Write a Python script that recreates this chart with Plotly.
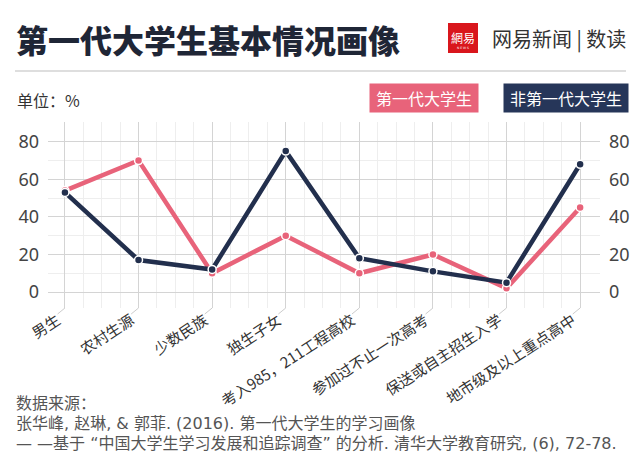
import plotly.graph_objects as go

categories = ["男生", "农村生源", "少数民族", "独生子女", "考入985，211工程高校",
              "参加过不止一次高考", "保送或自主招生入学", "地市级及以上重点高中"]
first_gen = [54, 70, 10, 30, 10, 20, 2, 45]
non_first_gen = [53, 17, 12, 75, 18, 11, 5, 68]
y_ticks = [0, 20, 40, 60, 80]

PINK = "#e8637a"
NAVY = "#222f4d"
FONT = "Noto Sans CJK SC"
SRC_FONT = "DejaVu Sans, Noto Sans CJK SC"

W, H = 640, 467
L, R, T, B = 48, 40, 122, 159
PW, PH = W - L - R, H - T - B


def px(x):
    return (x - L) / PW


def py(y):
    return (H - B - y) / PH


xs = list(range(len(categories)))
label_pos = [i - 0.1 for i in xs]
minor_x = [i + f for i in range(len(categories) - 1) for f in (0.25, 0.5, 0.75)]

fig = go.Figure()
fig.add_trace(go.Scatter(
    x=xs, y=first_gen, mode="lines+markers", name="第一代大学生",
    line=dict(color=PINK, width=4.5),
    marker=dict(color=PINK, size=8, line=dict(color="white", width=1.5)),
    showlegend=False))
fig.add_trace(go.Scatter(
    x=xs, y=non_first_gen, mode="lines+markers", name="非第一代大学生",
    line=dict(color=NAVY, width=4.5),
    marker=dict(color=NAVY, size=8, line=dict(color="white", width=1.5)),
    showlegend=False))
fig.add_trace(go.Scatter(x=xs, y=non_first_gen, xaxis="x2", yaxis="y2", mode="none",
                         showlegend=False, hoverinfo="skip"))

xr = [-0.23, 7.27]
yr = [-8.5, 90.5]
fig.update_layout(
    width=W, height=H,
    margin=dict(l=L, r=R, t=T, b=B, autoexpand=False),
    paper_bgcolor="white", plot_bgcolor="white",
    font=dict(family=FONT, color="#333333"),
    xaxis=dict(
        range=xr, tickvals=xs, showticklabels=False,
        showgrid=True, gridcolor="#d4d4d4", gridwidth=1,
        zeroline=False, showline=False, ticks="",
        minor=dict(tickvals=minor_x, showgrid=True, gridcolor="#eeeeee", gridwidth=1),
    ),
    xaxis2=dict(
        range=xr, tickvals=label_pos, ticktext=categories, overlaying="x", side="bottom",
        anchor="y", tickangle=-33, tickfont=dict(size=15, color="#333333", family=FONT),
        showgrid=False, zeroline=False, showline=False, ticks="",
    ),
    yaxis=dict(
        range=yr, tickvals=y_ticks, tickfont=dict(size=18, color="#444444", family="Noto Sans"),
        showgrid=True, gridcolor="#d4d4d4", gridwidth=1, zeroline=False,
        minor=dict(dtick=10, showgrid=True, gridcolor="#eeeeee", gridwidth=1),
        ticklabelstandoff=8,
    ),
    yaxis2=dict(
        range=yr, tickvals=y_ticks, overlaying="y", side="right", anchor="x2",
        tickfont=dict(size=18, color="#444444", family="Noto Sans"),
        showgrid=False, zeroline=False, ticklabelstandoff=8,
    ),
)

# connector ticks below each category
for i in xs:
    fig.add_shape(type="line", xref="x", yref="paper", x0=i, y0=0, x1=i - 0.1, y1=py(314),
                  line=dict(color="#cccccc", width=1))

# header
fig.add_annotation(text="第一代大学生基本情况画像", xref="paper", yref="paper",
                   x=px(14), y=py(39), xanchor="left", yanchor="middle", showarrow=False,
                   font=dict(size=32, color="#1f2636", family=FONT, weight=900))
fig.add_shape(type="rect", xref="paper", yref="paper", x0=px(448), x1=px(478),
              y0=py(53), y1=py(23), fillcolor="#d9161c", line=dict(width=0), layer="below")
fig.add_annotation(text="網易", xref="paper", yref="paper", x=px(463), y=py(37),
                   xanchor="center", yanchor="middle", showarrow=False,
                   font=dict(size=12, color="white", family=FONT))
fig.add_annotation(text="N E W S", xref="paper", yref="paper", x=px(463), y=py(48),
                   xanchor="center", yanchor="middle", showarrow=False,
                   font=dict(size=3, color="white", family="DejaVu Sans"))
fig.add_annotation(text="网易新闻 | 数读", xref="paper", yref="paper", x=px(628), y=py(39),
                   xanchor="right", yanchor="middle", showarrow=False,
                   font=dict(size=20, color="#333333", family=FONT))
fig.add_shape(type="line", xref="paper", yref="paper", x0=px(15), x1=px(626),
              y0=py(71), y1=py(71), line=dict(color="#dedede", width=2))

fig.add_annotation(text="单位：%", xref="paper", yref="paper", x=px(15), y=py(100),
                   xanchor="left", yanchor="middle", showarrow=False,
                   font=dict(size=16, color="#333333", family=FONT))

# legend boxes
fig.add_annotation(text="第一代大学生", xref="paper", yref="paper", x=px(423.5), y=py(98),
                   xanchor="center", yanchor="middle", showarrow=False, bgcolor=PINK,
                   borderpad=2, width=104, font=dict(size=16, color="white", family=FONT))
fig.add_annotation(text="非第一代大学生", xref="paper", yref="paper", x=px(566), y=py(98),
                   xanchor="center", yanchor="middle", showarrow=False, bgcolor="#263659",
                   borderpad=2, width=120, font=dict(size=16, color="white", family=FONT))

# source
src = ["数据来源：",
       "张华峰, 赵琳, &amp; 郭菲. (2016). 第一代大学生的学习画像",
       "— —基于 “中国大学生学习发展和追踪调查” 的分析. 清华大学教育研究, (6), 72-78."]
for k, line in enumerate(src):
    fig.add_annotation(text=line, xref="paper", yref="paper", x=px(14), y=py(403 + 20 * k),
                       xanchor="left", yanchor="middle", showarrow=False,
                       font=dict(size=16, color="#555555", family=SRC_FONT))

fig.write_html("out.html", post_script="document.body.style.margin='0';",
               config={"displayModeBar": False})
